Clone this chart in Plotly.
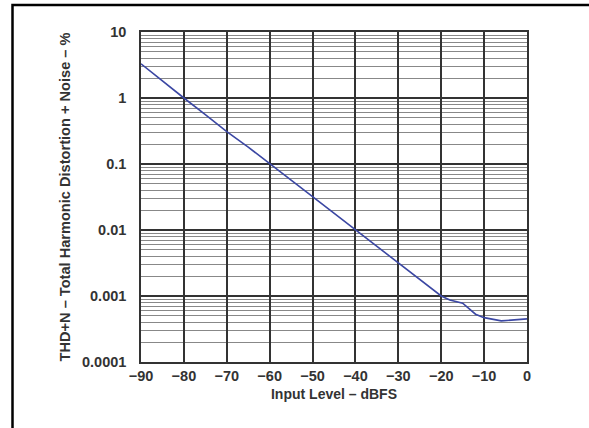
import plotly.graph_objects as go

# Data
input_level_dbfs = [-90, -85, -80, -75, -70, -65, -60, -55, -50, -45, -40, -35, -30, -25, -20, -18, -15, -12, -10, -6, 0]
thd_n_percent = [3.3, 1.8, 1.0, 0.56, 0.31, 0.18, 0.1, 0.057, 0.032, 0.018, 0.0102, 0.0058, 0.0032, 0.0018, 0.001, 0.00087, 0.00078, 0.00053, 0.00047, 0.00042, 0.00045]

x_ticks = [-90, -80, -70, -60, -50, -40, -30, -20, -10, 0]
x_tick_labels = ["\u221290", "\u221280", "\u221270", "\u221260", "\u221250", "\u221240", "\u221230", "\u221220", "\u221210", "0"]
y_ticks = [0.0001, 0.001, 0.01, 0.1, 1, 10]
y_tick_labels = ["0.0001", "0.001", "0.01", "0.1", "1", "10"]
minor_multipliers = [2, 3, 4, 5, 6, 7, 8, 9]
y_minor = [m * d for d in y_ticks[:-1] for m in minor_multipliers]

FONT = "Liberation Sans, Arial, sans-serif"
TXT = "#333333"

fig = go.Figure()
fig.add_trace(go.Scatter(
    x=input_level_dbfs, y=thd_n_percent, mode="lines",
    line=dict(color="#3b47a3", width=1.6), showlegend=False,
))

W, H = 589, 428
L, R, T, B = 141, 62, 32, 66
pw, ph = W - L - R, H - T - B

fig.update_layout(
    width=W, height=H,
    margin=dict(l=L, r=R, t=T, b=B),
    paper_bgcolor="white", plot_bgcolor="white",
    font=dict(family=FONT, color=TXT),
    xaxis=dict(
        range=[-90, 0], tickvals=x_ticks, ticktext=x_tick_labels,
        showgrid=True, gridcolor="#333333", gridwidth=1.5,
        zeroline=False, showline=True, linecolor="#333333", linewidth=1.5, mirror=True,
        ticks="", tickfont=dict(size=14.5, weight="bold", color=TXT),
        title=dict(text="Input Level \u2013 dBFS", font=dict(size=14, weight="bold", color=TXT), standoff=6),
    ),
    yaxis=dict(
        type="log", range=[-4, 1], tickvals=y_ticks, ticktext=y_tick_labels,
        showgrid=True, gridcolor="#333333", gridwidth=1.5,
        minor=dict(tickvals=y_minor, showgrid=True, gridcolor="#888888", gridwidth=1.2, ticks=""),
        zeroline=False, showline=True, linecolor="#333333", linewidth=1.5, mirror=True,
        ticks="", ticklabelstandoff=10, tickfont=dict(size=14.5, weight="bold", color=TXT),
        title=dict(text="THD+N \u2013 Total Harmonic Distortion + Noise \u2013 %", font=dict(size=14.6, weight="bold", color=TXT), standoff=8),
    ),
    shapes=[
        dict(type="rect", xref="paper", yref="paper",
             x0=(12.5 - L) / pw, x1=(W + 10 - L) / pw,
             y0=1 - (H + 10 - T) / ph, y1=1 + (T - 5) / ph,
             line=dict(color="black", width=2.5), fillcolor="rgba(0,0,0,0)"),
    ],
)

fig.write_html("out.html", config={"displayModeBar": False},
               post_script="document.body.style.margin='0px';")
